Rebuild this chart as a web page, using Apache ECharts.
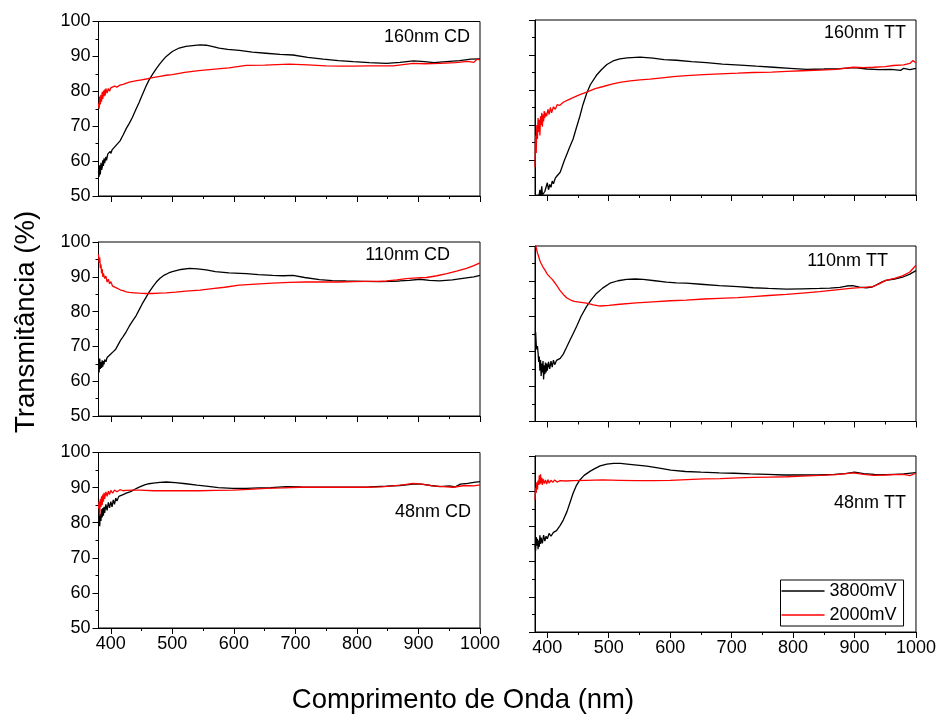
<!DOCTYPE html>
<html>
<head>
<meta charset="utf-8">
<script src="https://cdn.jsdelivr.net/npm/echarts@6/dist/echarts.min.js"></script>
<style>
html,body{margin:0;padding:0;background:#fff;}
#chart{width:939px;height:715px;}
</style>
</head>
<body>
<div id="chart"></div>
<script>
// ---------- data ----------
const panelLabels = ['160nm CD', '160nm TT', '110nm CD', '110nm TT', '48nm CD', '48nm TT'];
const seriesNames = ['3800mV', '2000mV'];
const xMajorTicks = [400, 500, 600, 700, 800, 900, 1000];
const xMinorTicks = [450, 550, 650, 750, 850, 950];
const yTickLabels = [50, 60, 70, 80, 90, 100];
const xTitle = 'Comprimento de Onda (nm)';
const yTitle = 'Transmitância (%)';

// [wavelength (nm), transmittance (%)]
const black160CD = [[380,57],[381,55.5],[382,58.8],[383,56.2],[384,59.5],[385,57.5],[386,58.2],[387,60.2],[388,58.6],[389,60.8],[390,59.4],[392,61.2],[393,60.2],[395,62],[397,61.6],[399,62.8],[400,62.2],[402,63.2],[405,63.5],[410,64.8],[415,65.8],[420,67.5],[425,69.3],[430,70.8],[435,72.5],[440,74.5],[446,76.8],[450,78.5],[457,81.4],[462,83.2],[468,84.9],[474,86.5],[479,87.7],[485,89],[490,90],[500,91.4],[511,92.4],[522,92.9],[533,93.1],[545,93.3],[555,93.2],[566,92.8],[576,92.4],[590,92],[609,91.7],[630,91.2],[652,90.9],[675,90.6],[696,90.4],[720,89.7],[745,89.2],[770,88.8],[794,88.5],[820,88.2],[848,88],[870,88.3],[892,88.7],[910,88.5],[925,88.2],[945,88.5],[967,88.8],[985,89.2],[1000,89.3]];
const red160CD = [[380,76.5],[381,75],[382,78.5],[383,76.2],[384,79],[385,77],[386,79.8],[387,77.8],[388,80.2],[389,78.5],[390,80.5],[391,78.8],[392,80.8],[394,79.5],[396,80.8],[398,80],[400,81],[403,80.6],[406,81.5],[410,81.2],[415,81.8],[420,82],[430,82.6],[440,83],[450,83.3],[460,83.6],[470,84],[480,84.3],[490,84.6],[500,84.8],[520,85.4],[543,85.9],[565,86.3],[592,86.7],[620,87.4],[650,87.5],[690,87.8],[720,87.6],[750,87.3],[775,87.2],[794,87.2],[820,87.3],[859,87.3],[891,88],[910,87.9],[935,88],[960,88.2],[980,88.6],[990,88.3],[995,89.2],[1000,89]];

const black160TT = [[380,47],[385,48],[388,51.5],[389,49],[391,52.5],[392,50],[394,49.5],[396,51],[398,50.5],[400,53.5],[402,51.5],[404,53],[406,52.2],[408,54],[410,53.2],[413,54.8],[416,55.5],[419,56],[421,56.5],[425,58.5],[428,60],[431.5,61.5],[436,63.5],[442,66],[447,69],[453,72.5],[458,75.8],[464,79],[470,81.5],[480,84.2],[488,85.8],[497,87.3],[507,88.3],[518,88.9],[530,89.2],[551,89.4],[572,89.1],[590,88.7],[610,88.5],[635,88.1],[659,87.8],[685,87.4],[714,87.1],[740,86.8],[768,86.5],[795,86.2],[822,85.9],[850,86],[876,86.1],[900,86.4],[920,86],[940,85.8],[960,85.9],[975,85.6],[980,86.2],[990,85.8],[1000,86.2]];
const red160TT = [[380,58],[381,67],[382,62],[383,70],[384,66],[385,72],[386,68],[387,71.5],[388,67],[389,72.5],[390,70],[391,73.5],[392,69.5],[393,73],[394,71],[395,74],[396,72],[397,73.5],[399,72.5],[401,74.5],[403,73],[405,75],[407,73.5],[410,75.2],[413,74.5],[416,75.8],[420,75.6],[426,76.5],[434,77.2],[442,77.8],[452,78.6],[464,79.4],[478,80.4],[491,81],[505,81.7],[518,82.2],[535,82.6],[551,82.9],[567,83.1],[583,83.4],[605,83.8],[626,84.1],[655,84.4],[681,84.6],[710,84.8],[735,85],[765,85.1],[790,85.3],[815,85.5],[844,85.7],[870,85.9],[898,86.5],[915,86.4],[931,86.5],[950,86.7],[963,87],[980,87.2],[990,87.6],[995,88.4],[1000,87.8]];

const black110CD = [[380,64.5],[381,62.5],[382,66.5],[383,63.5],[384,65.5],[385,63.8],[386,66],[387,64.2],[388,65.8],[389,64.8],[390,66.2],[392,65.6],[394,66.8],[397,67.2],[400,67.8],[404,68.5],[408,69.2],[412,70.5],[416,71.8],[420,72.8],[425,74.2],[430,75.8],[436,77.5],[441,78.8],[446,80.5],[451,82.2],[457,84],[463,85.8],[469,87.3],[474,88.5],[480,89.6],[487,90.5],[494,91.1],[500,91.5],[514,92.1],[528,92.4],[541,92.3],[555,92],[570,91.5],[592,91.1],[620,90.9],[640,90.6],[663,90.4],[680,90.3],[696,90.4],[715,89.8],[739,89.2],[760,88.9],[782,88.8],[810,88.7],[837,88.6],[855,88.7],[869,88.8],[885,89],[902,89.3],[918,89],[934,88.8],[955,89.1],[978,89.7],[990,90],[1000,90.4]];
const red110CD = [[380,96.5],[381,94],[382,95.5],[383,92.5],[384,93.5],[385,91],[386,92.2],[387,90],[388,91],[390,89.5],[392,90.2],[394,88.5],[396,89.3],[398,88],[400,88.6],[403,87.3],[406,87.8],[409,86.8],[412,87],[416,86.2],[420,86],[425,85.7],[430,85.5],[438,85.4],[446,85.3],[457,85.2],[468,85.2],[479,85.3],[490,85.4],[505,85.6],[522,85.9],[545,86.2],[565,86.6],[585,87],[609,87.6],[635,87.9],[663,88.2],[690,88.4],[717,88.5],[745,88.5],[771,88.5],[795,88.6],[815,88.7],[833,88.7],[848,88.8],[865,89.1],[880,89.5],[897,89.7],[913,89.8],[930,90.3],[946,90.9],[962,91.6],[978,92.4],[990,93.2],[1000,94]];

const black110TT = [[380,74.5],[381,75.5],[382,72],[383,70.5],[384,71.5],[385,69.5],[386,67],[387,68.5],[388,64.5],[389,67.5],[390,63],[391,66.5],[392,64],[393,67.2],[394,62],[395,66],[396,63.5],[397,66.8],[398,64],[399,66.5],[400,64.5],[402,67],[404,65],[406,67.2],[408,65.5],[410,67.5],[412,66.2],[415,67.4],[418,67.5],[421,68],[426,69.2],[431,71],[437,73.2],[442,75],[448,77.2],[455,80],[464,82.8],[472,84.8],[480,86.5],[490,88],[502,89.4],[515,90.1],[529,90.5],[543,90.6],[556,90.5],[575,90.1],[594,89.7],[610,89.5],[626,89.4],[650,89.1],[680,88.7],[710,88.4],[735,88.1],[760,87.9],[789,87.7],[815,87.8],[843,87.9],[860,88],[876,88.2],[887,88.6],[897,88.7],[908,88.3],[919,88.1],[928,88.3],[935,88.9],[945,89.8],[951,90.2],[965,90.6],[978,91.1],[990,92],[1000,93]];
const red110TT = [[380,101],[382,99.5],[384,98],[386,97],[388,95.8],[390,95],[393,94],[396,93.2],[400,92],[404,91.2],[408,90.5],[412,89.6],[416,88.6],[420,87.5],[426,86.2],[432,85.2],[438,84.6],[444,84.2],[452,84],[464,83.7],[475,83.2],[486,82.9],[500,83.1],[518,83.4],[545,83.8],[572,84.1],[600,84.4],[626,84.6],[655,84.9],[680,85.1],[710,85.3],[735,85.6],[760,85.9],[789,86.2],[815,86.6],[843,87],[870,87.5],[897,88],[915,88.2],[930,88.4],[940,89.2],[951,90.2],[965,90.8],[978,91.5],[990,92.6],[1000,94.5]];

const black48CD = [[380,80],[381,83],[382,79],[383,82.5],[384,80.5],[385,83.8],[386,81.5],[387,84.2],[388,82],[389,84.5],[390,82.8],[392,85.2],[394,83.5],[396,85.8],[398,84.2],[400,86],[402,84.5],[404,86.5],[406,85.2],[408,87],[410,86.2],[413,87.5],[416,87.2],[420,88],[425,88.4],[431,88.8],[437,89.3],[442,89.8],[447,90.2],[455,90.8],[462,91.1],[469,91.3],[480,91.5],[490,91.6],[505,91.4],[522,91.1],[540,90.7],[555,90.4],[575,90],[598,89.8],[620,89.8],[641,89.9],[660,90],[685,90.3],[710,90.2],[739,90.1],[765,90.1],[794,90.1],[820,90.2],[848,90.4],[870,90.6],[891,91],[905,91],[920,90.6],[935,90.3],[950,90.5],[960,90.2],[968,91],[980,91.2],[990,91.5],[1000,91.7]];
const red48CD = [[380,84],[381,86],[382,82],[383,86.8],[384,84.5],[385,87.5],[386,85],[387,88],[388,86],[389,88.5],[390,86.8],[392,88.8],[394,87.5],[396,89],[398,88],[400,89.2],[403,88.4],[406,89.3],[410,88.8],[415,89.4],[420,89.1],[425,89.2],[435,89.3],[447,89.3],[470,89.1],[490,89.1],[515,89.1],[544,89.1],[570,89.2],[598,89.3],[625,89.5],[652,89.8],[680,89.9],[707,90.1],[735,90.1],[761,90.1],[790,90.1],[815,90.1],[840,90.2],[858,90.5],[875,90.8],[891,91.2],[905,91],[923,90.5],[940,90.3],[956,90.1],[975,90.6],[990,90.5],[1000,90.8]];

const black48TT = [[380,75],[381,73],[382,77],[383,74.5],[384,76.5],[385,73.5],[386,76],[387,74.2],[388,77.5],[389,75],[390,76.8],[392,75.2],[394,77.5],[396,75.8],[398,77.2],[400,76.5],[403,78],[406,77.2],[410,78.3],[415,78.8],[421,80.3],[426,81.8],[432,84.2],[437,86.8],[442,89.4],[447,91.5],[453,93.2],[460,94.5],[470,95.7],[478,96.5],[486,97.2],[497,97.7],[508,97.9],[519,97.9],[530,97.7],[546,97.4],[562,97.1],[580,96.6],[601,96],[625,95.6],[650,95.4],[680,95.2],[704,95.1],[730,94.9],[759,94.8],[785,94.6],[813,94.6],[840,94.6],[867,94.8],[885,95],[900,95.4],[915,95],[932,94.8],[950,94.7],[965,94.8],[980,94.9],[1000,95.3]];
const red48TT = [[380,87.5],[381,91],[382,89.5],[383,92.5],[384,90.5],[385,93],[386,91.8],[387,94.5],[388,92],[389,94.8],[390,92.2],[391,93.8],[392,91.8],[393,93.5],[395,92.2],[397,93.2],[399,92],[401,93.3],[403,92.3],[406,93.1],[409,92.5],[412,93.2],[416,92.6],[421,93],[430,92.9],[442,93],[464,93.1],[490,93.2],[518,93.1],[545,93],[573,93],[600,93.1],[627,93.3],[655,93.5],[681,93.6],[710,93.8],[735,93.9],[762,94],[790,94.1],[815,94.3],[844,94.5],[870,94.7],[898,95.2],[915,94.8],[931,94.5],[950,94.6],[965,94.7],[980,94.8],[990,94.4],[1000,95.1]];

const blackSeries = [black160CD, black160TT, black110CD, black110TT, black48CD, black48TT];
const redSeries = [red160CD, red160TT, red110CD, red110TT, red48CD, red48TT];

// ---------- layout ----------
const grids = [
  {left: 98.5, top: 21.5, width: 381.5, height: 174.5},
  {left: 535, top: 20, width: 381, height: 175},
  {left: 98.5, top: 242, width: 381.5, height: 174},
  {left: 535, top: 246, width: 381, height: 175.5},
  {left: 98.5, top: 452.5, width: 381.5, height: 175.5},
  {left: 535, top: 456, width: 381, height: 176}
];
const labelPos = [
  {x: 470, y: 37}, {x: 906, y: 33}, {x: 450, y: 255},
  {x: 888, y: 261}, {x: 471, y: 512}, {x: 906, y: 503}
];
const FONT = 'Liberation Sans, Arial, sans-serif';

const xAxes = [], yAxes = [], series = [], graphics = [];
grids.forEach((g, i) => {
  const bottomRow = i >= 4;
  const leftCol = i % 2 === 0;
  xAxes.push({
    type: 'value', gridIndex: i, min: 380, max: 1000, position: 'bottom',
    axisLine: {show: true, onZero: false, lineStyle: {color: '#000', width: 1}},
    axisTick: {show: true, customValues: xMajorTicks, length: 6, lineStyle: {color: '#000'}},
    axisLabel: {show: bottomRow, customValues: xMajorTicks, fontSize: 18, color: '#000', fontFamily: FONT, margin: 7,
      formatter: v => String(v)},
    splitLine: {show: false}
  });
  xAxes.push({
    type: 'value', gridIndex: i, min: 380, max: 1000, position: 'bottom',
    axisLine: {show: false},
    axisTick: {show: true, customValues: xMinorTicks, length: 3, lineStyle: {color: '#000'}},
    axisLabel: {show: false},
    splitLine: {show: false}
  });
  yAxes.push({
    type: 'value', gridIndex: i, min: 50, max: 100, interval: 10,
    axisLine: {show: true, onZero: false, lineStyle: {color: '#000', width: 1}},
    axisTick: {show: true, length: 6, lineStyle: {color: '#000'}},
    minorTick: {show: true, splitNumber: 2, length: 3, lineStyle: {color: '#000'}},
    axisLabel: {show: leftCol, fontSize: 18, color: '#000', fontFamily: FONT, margin: 8,
      customValues: yTickLabels, formatter: v => String(v)},
    splitLine: {show: false}
  });
  series.push({
    name: seriesNames[0], type: 'line', xAxisIndex: 2 * i, yAxisIndex: i,
    data: blackSeries[i], symbol: 'none', clip: true,
    lineStyle: {color: '#000', width: 1.3}, itemStyle: {color: '#000'}
  });
  series.push({
    name: seriesNames[1], type: 'line', xAxisIndex: 2 * i, yAxisIndex: i,
    data: redSeries[i], symbol: 'none', clip: true,
    lineStyle: {color: '#ff0000', width: 1.3}, itemStyle: {color: '#ff0000'}
  });
  graphics.push({
    type: 'text', x: labelPos[i].x, y: labelPos[i].y,
    style: {text: panelLabels[i], fill: '#000', font: '18px ' + FONT,
      textAlign: 'right', textVerticalAlign: 'middle'}
  });
});
graphics.push({
  type: 'text', x: 463, y: 700,
  style: {text: xTitle, fill: '#000', font: '27.5px ' + FONT, textAlign: 'center', textVerticalAlign: 'middle'}
});
graphics.push({
  type: 'text', x: 26, y: 322, rotation: Math.PI / 2,
  style: {text: yTitle, fill: '#000', font: '27.5px ' + FONT, textAlign: 'center', textVerticalAlign: 'middle'}
});

const option = {
  animation: false,
  backgroundColor: '#fff',
  grid: grids.map(g => Object.assign({show: true, borderColor: '#000', borderWidth: 1,
    backgroundColor: 'transparent', containLabel: false}, g)),
  xAxis: xAxes,
  yAxis: yAxes,
  series: series,
  legend: {
    data: seriesNames, orient: 'vertical', left: 780.5, top: 580,
    icon: 'rect', itemWidth: 43, itemHeight: 1.3, itemGap: 2,
    padding: [0, 7, 0, 1], borderColor: '#000', borderWidth: 1,
    selectedMode: false,
    textStyle: {fontSize: 18, color: '#000', fontFamily: FONT, lineHeight: 22}
  },
  graphic: graphics
};

const chart = echarts.init(document.getElementById('chart'), null, {renderer: 'canvas'});
chart.setOption(option);
</script>
</body>
</html>
